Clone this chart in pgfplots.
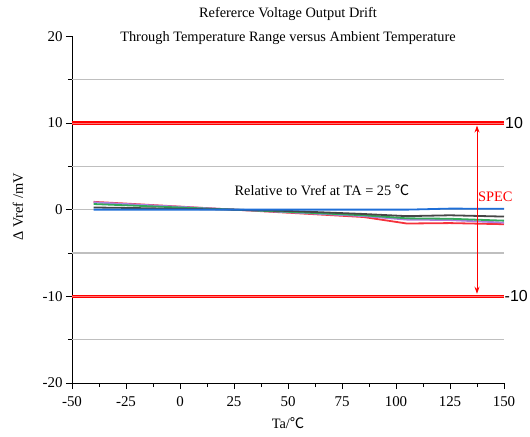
\documentclass[border=0pt]{standalone}
\usepackage{fontspec}
\setmainfont{Liberation Serif}
\newfontfamily\cjk{Noto Sans CJK SC}
\newfontfamily\arial{Liberation Sans}
\usepackage{pgfplots}
\pgfplotsset{compat=1.18}
\usetikzlibrary{arrows.meta}
\definecolor{cblue}{RGB}{30,110,215}
\definecolor{cblack}{RGB}{70,70,70}
\definecolor{cgreen}{RGB}{50,170,90}
\definecolor{cpurple}{RGB}{175,125,225}
\definecolor{cred}{RGB}{245,50,60}
\pgfplotstableread{
x blue black green purple red
-40 0 0.25 0.65 0.85 0.9
-25 0 0.2 0.5 0.65 0.7
0 0 0.1 0.25 0.33 0.35
25 0 0 0 0 0
50 0 -0.15 -0.25 -0.3 -0.35
85 0 -0.5 -0.65 -0.75 -0.85
105 0 -0.75 -1.0 -1.15 -1.6
125 0.12 -0.65 -1.05 -1.2 -1.55
150 0.1 -0.8 -1.27 -1.5 -1.68
}\datatable
\begin{document}
\begin{tikzpicture}
\useasboundingbox (-72bp,-54bp) rectangle (458bp,383bp);
\begin{axis}[
  at={(0,0)}, anchor=south west,
  width=432bp, height=346.7bp, scale only axis,
  xmin=-50, xmax=150, ymin=-20, ymax=20,
  axis x line*=bottom, axis y line*=left,
  axis line style={black, line width=0.8bp, -},
  xtick={-50,-25,...,150}, minor x tick num=1,
  ytick={-20,-10,...,20}, minor y tick num=1,
  tick align=outside, major tick length=6bp, minor tick length=4bp,
  tick style={black, line width=0.8bp},
  ticklabel style={font=\rmfamily\fontsize{15}{17}\selectfont},
  xticklabel style={yshift=-4bp},
  /pgf/number format/assume math mode=true,
  clip=false,
]
% grid
\draw[gray!50, line width=1.2bp] (axis cs:-50,15) -- (axis cs:150,15);
\draw[gray!50, line width=1.2bp] (axis cs:-50,5) -- (axis cs:150,5);
\draw[gray!50, line width=1.2bp] (axis cs:-50,0) -- (axis cs:150,0);
\draw[gray!50, line width=1.2bp] (axis cs:-50,-5) -- (axis cs:150,-5);
\draw[gray!50, line width=1.2bp] (axis cs:-50,-15) -- (axis cs:150,-15);
% spec lines
\draw[red, line width=3.4bp] (axis cs:-50,10) -- (axis cs:150,10);
\draw[red!55, line width=0.6bp] (axis cs:-50,10) -- (axis cs:150,10);
\draw[red, line width=3.4bp] (axis cs:-50,-10) -- (axis cs:150,-10);
\draw[red!55, line width=0.6bp] (axis cs:-50,-10) -- (axis cs:150,-10);
% data
\addplot[cred, line width=1.8bp, no marks] table[x=x,y=red] {\datatable};
\addplot[cpurple, line width=1.8bp, no marks] table[x=x,y=purple] {\datatable};
\addplot[cgreen, line width=1.8bp, no marks] table[x=x,y=green] {\datatable};
\addplot[cblack, line width=1.8bp, no marks] table[x=x,y=black] {\datatable};
\addplot[cblue, line width=1.8bp, no marks] table[x=x,y=blue] {\datatable};
% arrow
\draw[red, line width=0.9bp, {Stealth[length=7bp,width=5bp]}-{Stealth[length=7bp,width=5bp]}] (axis cs:137.5,9.7) -- (axis cs:137.5,-9.7);
\node[red, font=\fontsize{14.5}{16}\selectfont] at (axis cs:146,1.5) {SPEC};
\node[anchor=west, inner sep=1bp, font=\arial\fontsize{16}{18}\selectfont] at (axis cs:150,10) {10};
\node[anchor=west, inner sep=0.5bp, font=\arial\fontsize{16}{18}\selectfont] at (axis cs:150,-10) {-10};
\node[font=\fontsize{14.4}{16}\selectfont] at (axis cs:65.7,2.3) {Relative to Vref at TA = 25 {\cjk ℃}};
% titles and labels
\node[font=\fontsize{14.4}{16}\selectfont] at (axis cs:50,22.6) {Refererce Voltage Output Drift};
\node[font=\fontsize{14.4}{16}\selectfont] at (axis cs:50,19.85) {Through Temperature Range versus Ambient Temperature};
\node[rotate=90, font=\fontsize{14.4}{16}\selectfont] at (axis cs:-75,0.3) {Δ Vref /mV};
\node[font=\fontsize{14.4}{16}\selectfont] at (axis cs:50,-24.6) {Ta/{\cjk ℃}};
\end{axis}
\end{tikzpicture}
\end{document}
